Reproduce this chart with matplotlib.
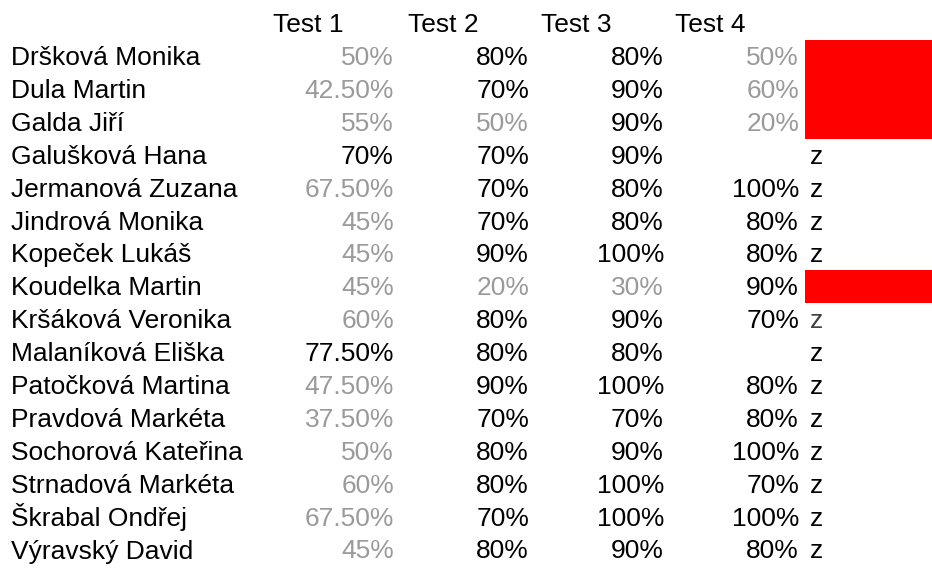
import matplotlib
matplotlib.use("Agg")
import matplotlib.pyplot as plt
from matplotlib.patches import Rectangle

names = ["Dršková Monika", "Dula Martin", "Galda Jiří", "Galušková Hana",
         "Jermanová Zuzana", "Jindrová Monika", "Kopeček Lukáš", "Koudelka Martin",
         "Kršáková Veronika", "Malaníková Eliška", "Patočková Martina",
         "Pravdová Markéta", "Sochorová Kateřina", "Strnadová Markéta",
         "Škrabal Ondřej", "Výravský David"]
headers = ["Test 1", "Test 2", "Test 3", "Test 4"]
test1 = [50, 42.5, 55, 70, 67.5, 45, 45, 45, 60, 77.5, 47.5, 37.5, 50, 60, 67.5, 45]
test2 = [80, 70, 50, 70, 70, 70, 90, 20, 80, 80, 90, 70, 80, 80, 70, 80]
test3 = [80, 90, 90, 90, 80, 80, 100, 30, 90, 80, 100, 70, 90, 100, 100, 90]
test4 = [50, 60, 20, None, 100, 80, 80, 90, 70, None, 80, 80, 100, 70, 100, 80]
status = ["fail", "fail", "fail", "z", "z", "z", "z", "fail",
          "z", "z", "z", "z", "z", "z", "z", "z"]

plt.rcParams['font.family'] = ['Liberation Sans', 'DejaVu Sans']
fig = plt.figure(figsize=(9.32, 5.68), dpi=100)
ax = fig.add_axes([0, 0, 1, 1])
ax.set_xlim(0, 932)
ax.set_ylim(568, 0)
ax.axis('off')

fs = 19
black = '#000000'
gray = '#9a9a9a'

def fmt(v):
    if v is None:
        return ""
    if float(v).is_integer():
        return f"{int(v)}%"
    return f"{v:.2f}%"

base0 = 65
pitch = 32.9
col_right = [394, 529, 664, 799]
head_left = [273, 408, 541, 675]

for j, h in enumerate(headers):
    ax.text(head_left[j], 32, h, fontsize=fs, ha='left', va='baseline', color=black)

cols = [test1, test2, test3, test4]
for i, n in enumerate(names):
    yb = base0 + pitch * i
    ax.text(11, yb, n, fontsize=fs, ha='left', va='baseline', color=black)
    for j, col in enumerate(cols):
        v = col[i]
        if v is None:
            continue
        c = gray if v < 70 else black
        ax.text(col_right[j], yb, fmt(v), fontsize=fs, ha='right', va='baseline', color=c)
    if status[i] == "fail":
        ax.add_patch(Rectangle((805, yb - 25), 932 - 805, pitch + 0.3,
                               facecolor='#ff0000', edgecolor='none'))
    else:
        zc = '#404040' if i == 8 else black
        ax.text(810, yb, "z", fontsize=fs, ha='left', va='baseline', color=zc)

fig.savefig("out.png", dpi=100)
